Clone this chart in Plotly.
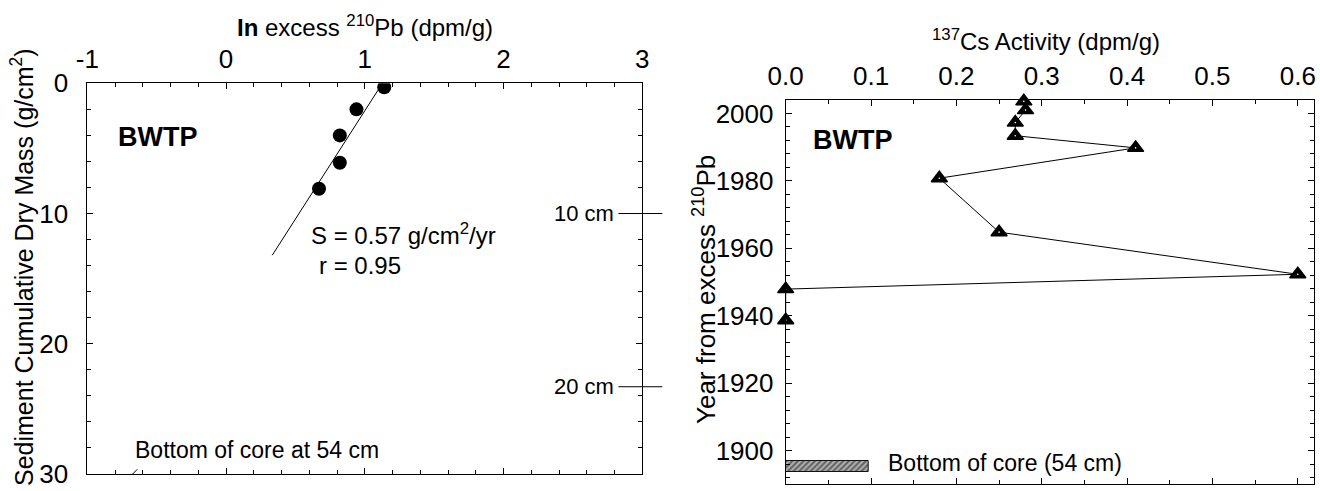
import plotly.graph_objects as go

# ---- Left panel: ln excess 210Pb vs cumulative dry mass ----
pb_ln_excess = [1.14, 0.94, 0.82, 0.82, 0.67]
pb_dry_mass = [0.3, 2.0, 4.0, 6.1, 8.1]

# regression line end points (ln excess, dry mass)
fit_ln = [1.127, 0.333]
fit_mass = [0.0, 13.2]

pb_tickvals = [-1, 0, 1, 2, 3]
pb_ticktext = ["-1", "0", "1", "2", "3"]

depth_labels = ["10 cm", "20 cm"]
depth_mass = [10.0, 23.3]

# ---- Right panel: 137Cs activity vs 210Pb year ----
cs_activity = [0.279, 0.281, 0.269, 0.269, 0.410, 0.180, 0.250, 0.600, 0.0, 0.0]
cs_year = [2003.6, 2001.0, 1997.3, 1993.4, 1989.8, 1980.8, 1964.8, 1952.3, 1947.9, 1938.7]

core_bottom_activity = [0.097]
core_bottom_year = [1895.35]
core_bottom_span = [3.3]

FONT = "Arial, Liberation Sans, Helvetica, sans-serif"
TICK_SIZE = 26
NOTE_SIZE = 23

fig = go.Figure()

fig.add_trace(go.Scatter(
    x=fit_ln, y=fit_mass, mode="lines",
    line=dict(color="black", width=1), xaxis="x", yaxis="y",
    showlegend=False, hoverinfo="skip"))
fig.add_trace(go.Scatter(
    x=pb_ln_excess, y=pb_dry_mass, mode="markers",
    marker=dict(symbol="circle", size=14, color="black",
                line=dict(width=0)),
    xaxis="x", yaxis="y", showlegend=False))

fig.add_trace(go.Bar(
    x=core_bottom_activity, y=core_bottom_year, width=core_bottom_span,
    base=0, orientation="h",
    marker=dict(color="#a0a0a0", line=dict(color="#111", width=1),
                pattern=dict(shape="/", fgcolor="#111", bgcolor="#b0b0b0",
                             size=4, solidity=0.5)),
    xaxis="x2", yaxis="y2", showlegend=False, hoverinfo="skip"))
fig.add_trace(go.Scatter(
    x=cs_activity, y=cs_year, mode="lines",
    line=dict(color="black", width=1),
    xaxis="x2", yaxis="y2", showlegend=False, cliponaxis=False,
    hoverinfo="skip"))
fig.add_trace(go.Scatter(
    x=cs_activity, y=cs_year, mode="markers",
    marker=dict(symbol="triangle-up", size=14, color="black",
                line=dict(color="black", width=1.5)),
    xaxis="x2", yaxis="y2", showlegend=False, cliponaxis=False))
fig.add_trace(go.Scatter(
    x=cs_activity, y=cs_year, mode="markers",
    marker=dict(symbol="circle", size=1.6, color="white",
                line=dict(width=0)),
    xaxis="x2", yaxis="y2", showlegend=False, cliponaxis=False,
    hoverinfo="skip"))

W, H = 1320, 491


def px_x(p):
    return p / W


def px_y(p):
    return 1 - p / H


axis_common = dict(
    showgrid=False, zeroline=False, showline=True, linecolor="black",
    linewidth=1, mirror="ticks", ticks="inside", ticklen=6,
    tickcolor="black", tickwidth=1, automargin=False,
    tickfont=dict(family=FONT, size=TICK_SIZE, color="black"),
)

fig.update_layout(
    width=W, height=H, autosize=False,
    margin=dict(l=0, r=0, t=0, b=0, pad=0),
    paper_bgcolor="white", plot_bgcolor="white",
    font=dict(family=FONT, color="black"),
    showlegend=False,
    bargap=0,
    xaxis=dict(
        axis_common, domain=[px_x(87.3), px_x(642.3)], range=[-1, 3],
        side="top", tickmode="array", tickvals=pb_tickvals,
        ticktext=pb_ticktext, ticklabelstandoff=4,
        minor=dict(dtick=0.2, ticks="inside", ticklen=4, tickcolor="black"),
        anchor="y"),
    yaxis=dict(
        axis_common, domain=[px_y(474), px_y(83.3)], range=[30, 0],
        dtick=10, ticklabelstandoff=13,
        minor=dict(dtick=2, ticks="inside", ticklen=4, tickcolor="black"),
        anchor="x"),
    xaxis2=dict(
        axis_common, domain=[px_x(785.7), px_x(1314)], range=[0, 0.619],
        side="top", dtick=0.1, tickformat=".1f", ticklabelstandoff=4,
        minor=dict(dtick=0.05, ticks="inside", ticklen=4, tickcolor="black"),
        anchor="y2"),
    yaxis2=dict(
        axis_common, domain=[px_y(484.3), px_y(100)], range=[1890, 2004],
        dtick=20, ticklabelstandoff=6,
        minor=dict(dtick=4, ticks="inside", ticklen=4, tickcolor="black"),
        anchor="x2"),
)

ann = []
# axis titles, centred on their axes
ann.append(dict(text="<b>In</b> excess <sup>210</sup>Pb (dpm/g)",
                xref="paper", yref="paper", x=px_x(365), y=px_y(26),
                xanchor="center", yanchor="middle", showarrow=False,
                font=dict(size=24)))
ann.append(dict(text="Sediment Cumulative Dry Mass (g/cm<sup>2</sup>)",
                xref="paper", yref="paper", x=px_x(22), y=px_y(267),
                xanchor="center", yanchor="middle", textangle=-90,
                showarrow=False, font=dict(size=25)))
ann.append(dict(text="<sup>137</sup>Cs Activity (dpm/g)",
                xref="paper", yref="paper", x=px_x(1046), y=px_y(40),
                xanchor="center", yanchor="middle", showarrow=False,
                font=dict(size=24)))
ann.append(dict(text="Year from excess <sup>210</sup>Pb",
                xref="paper", yref="paper", x=px_x(704), y=px_y(290),
                xanchor="center", yanchor="middle", textangle=-90,
                showarrow=False, font=dict(size=26)))

# panel labels and notes
ann.append(dict(text="<b>BWTP</b>", xref="x", yref="y", x=-0.494, y=4.12,
                xanchor="center", yanchor="middle", showarrow=False,
                font=dict(size=27)))
ann.append(dict(text="<b>BWTP</b>", xref="x2", yref="y2", x=0.0785, y=1992.1,
                xanchor="center", yanchor="middle", showarrow=False,
                font=dict(size=27)))
ann.append(dict(text="S = 0.57 g/cm<sup>2</sup>/yr", xref="x", yref="y",
                x=0.60, y=11.6, xanchor="left", yanchor="middle",
                showarrow=False, font=dict(size=24)))
ann.append(dict(text="r = 0.95", xref="x", yref="y", x=0.655, y=13.96,
                xanchor="left", yanchor="middle", showarrow=False,
                font=dict(size=24)))
ann.append(dict(text="Bottom of core at 54 cm", xref="x", yref="y",
                x=-0.67, y=28.16, xanchor="left", yanchor="middle",
                showarrow=False, font=dict(size=NOTE_SIZE)))
ann.append(dict(text="Bottom of core (54 cm)", xref="x2", yref="y2",
                x=0.118, y=1896.2, xanchor="left", yanchor="middle",
                showarrow=False, font=dict(size=NOTE_SIZE)))

shapes = []
for label, m in zip(depth_labels, depth_mass):
    ann.append(dict(text=label, xref="x domain", yref="y", x=0.953, y=m,
                    xanchor="right", yanchor="middle", showarrow=False,
                    font=dict(size=22)))
    shapes.append(dict(type="line", xref="x domain", yref="y",
                       x0=0.957, x1=1.036, y0=m, y1=m,
                       line=dict(color="black", width=1)))

# small pointer where the core bottom meets the mass axis
shapes.append(dict(type="line", xref="x", yref="y", x0=-0.673, y0=30,
                   x1=-0.640, y1=29.64, line=dict(color="black", width=1)))

fig.update_layout(annotations=ann, shapes=shapes)

fig.write_html("out.html")
